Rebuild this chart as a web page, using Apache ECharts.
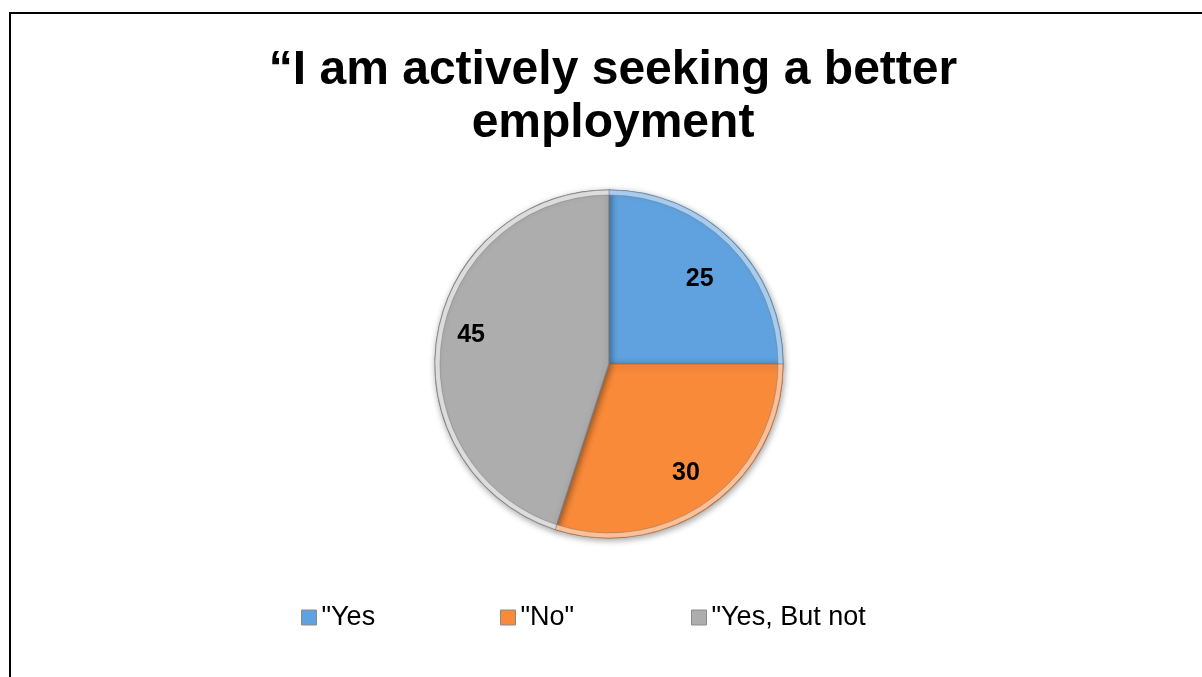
<!DOCTYPE html>
<html>
<head>
<meta charset="utf-8">
<script src="https://cdn.jsdelivr.net/npm/echarts@6/dist/echarts.min.js"></script>
<style>
  html, body { margin: 0; padding: 0; background: #ffffff; }
  #chart { width: 1202px; height: 677px; }
</style>
</head>
<body>
<div id="chart"></div>
<script>
// Survey answers and their shares
const categories = ['"Yes', '"No"', '"Yes, But not'];
const values = [25, 30, 45];
const sliceColors = ['#5fa2df', '#f98a3a', '#adadad'];
const rimColors = ['#a6cdf0', '#fdc096', '#dcdcdc'];
const edgeColors = ['#4a83b8', '#c9682a', '#7d7d7d'];
const titleText = '\u201CI am actively seeking a better\nemployment';

// nudges that move each value label outward from the slice middle
const labelOffsets = [[27, -21], [24, 36], [-49, -15]];
// left edge of each legend column
const legendColumns = [296, 495, 686];

const chart = echarts.init(document.getElementById('chart'), null, { renderer: 'canvas' });

const fontFamily = 'Liberation Sans, Arial, sans-serif';

const mainData = categories.map((name, i) => ({
  name: name,
  value: values[i],
  itemStyle: { color: sliceColors[i], borderColor: edgeColors[i] },
  label: { offset: labelOffsets[i] }
}));

// thin bright ring along the outer edge, giving the slices a bevelled rim
const rimData = categories.map((name, i) => ({
  name: name,
  value: values[i],
  itemStyle: { color: rimColors[i] }
}));

// one legend per answer so the entries sit in evenly spaced columns
const legends = categories.map((name, i) => ({
  data: [name],
  left: legendColumns[i],
  top: 599,
  orient: 'horizontal',
  icon: 'rect',
  itemWidth: 15,
  itemHeight: 15,
  selectedMode: false,
  itemStyle: { borderColor: '#8a8a8a', borderWidth: 1 },
  textStyle: { fontFamily: fontFamily, fontSize: 27, color: '#000000' }
}));

chart.setOption({
  backgroundColor: '#ffffff',
  animation: false,
  title: {
    text: titleText,
    left: 608,
    textAlign: 'center',
    top: 39,
    textStyle: {
      fontFamily: fontFamily,
      fontWeight: 'bold',
      fontSize: 48,
      lineHeight: 53,
      color: '#000000'
    }
  },
  legend: legends,
  graphic: [{
    type: 'rect',
    shape: { x: 10, y: 13, width: 1400, height: 900 },
    style: { fill: 'none', stroke: '#000000', lineWidth: 2 },
    silent: true,
    z: 100
  }],
  series: [{
    type: 'pie',
    center: [609, 364],
    radius: [0, 174],
    startAngle: 90,
    clockwise: true,
    avoidLabelOverlap: false,
    itemStyle: {
      borderWidth: 1.2,
      shadowBlur: 6,
      shadowColor: 'rgba(0,0,0,0.35)',
      shadowOffsetX: 1,
      shadowOffsetY: 2
    },
    label: {
      show: true,
      position: 'inside',
      formatter: '{c}',
      fontFamily: fontFamily,
      fontWeight: 'bold',
      fontSize: 25,
      color: '#000000'
    },
    labelLine: { show: false },
    emphasis: { disabled: true },
    data: mainData,
    z: 2
  }, {
    type: 'pie',
    center: [609, 364],
    radius: [169, 174],
    startAngle: 90,
    clockwise: true,
    silent: true,
    label: { show: false },
    labelLine: { show: false },
    emphasis: { disabled: true },
    itemStyle: { borderColor: 'rgba(120,120,120,0.6)', borderWidth: 0.8 },
    data: rimData,
    z: 3
  }]
});
</script>
</body>
</html>
